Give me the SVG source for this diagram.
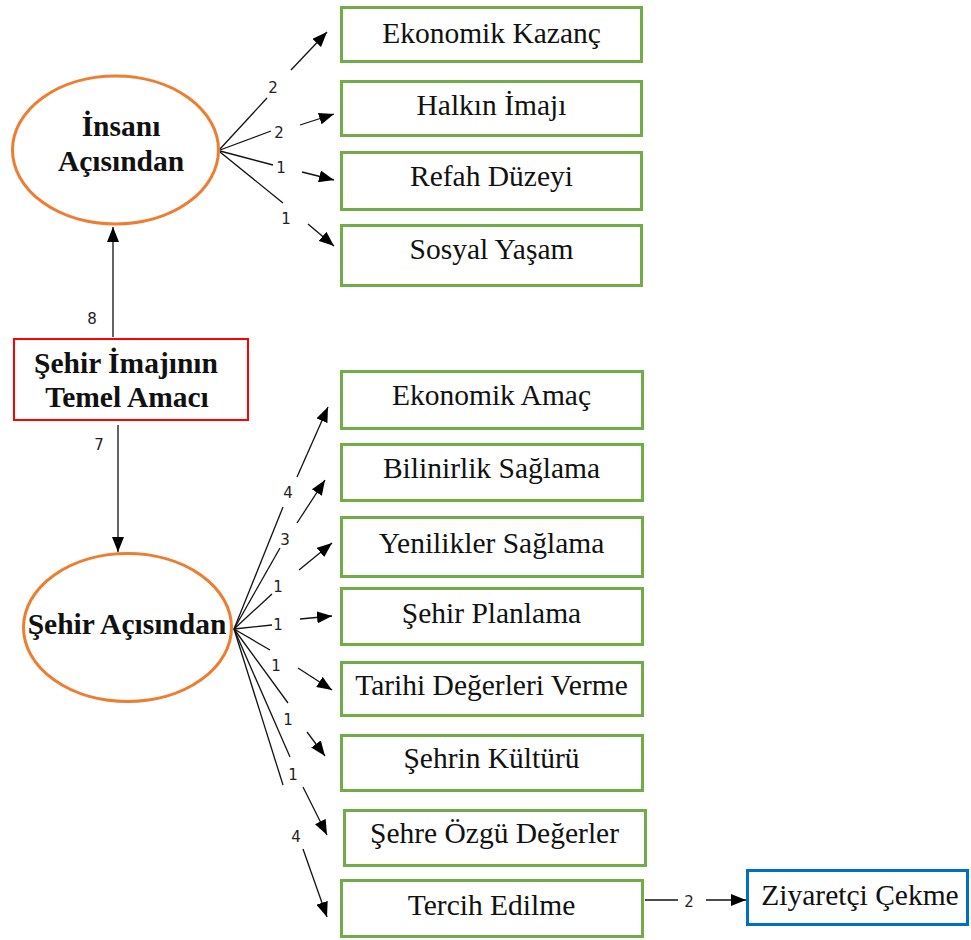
<svg xmlns="http://www.w3.org/2000/svg" width="971" height="940" viewBox="0 0 971 940">
  <defs>
    <marker id="arrow" viewBox="0 0 15 12" markerWidth="15" markerHeight="12" refX="15" refY="6" orient="auto" markerUnits="userSpaceOnUse">
      <path d="M0,0 L15,6 L0,12 Z" fill="#000"/>
    </marker>
    <style>
      .item { fill: #fff; stroke: #70AD47; stroke-width: 3; }
      .item-text { font-family: "Liberation Serif", "Times New Roman", serif; font-size: 29.5px; fill: #111; text-anchor: middle; }
      .head-text { font-family: "Liberation Serif", "Times New Roman", serif; font-size: 29.5px; font-weight: bold; fill: #111; text-anchor: middle; }
      .view { fill: #fff; stroke: #ED7D31; stroke-width: 3; }
      .edge { stroke: #111; stroke-width: 1.3; fill: none; }
      .tip { stroke: #111; stroke-width: 1.3; fill: none; marker-end: url(#arrow); }
      .num { font-family: "DejaVu Sans", Verdana, sans-serif; font-size: 15px; fill: #222; text-anchor: middle; dominant-baseline: central; }
    </style>
  </defs>
  <rect width="971" height="940" fill="#fff"/>

  <!-- connectors -->
  <g id="connectors">
    <!-- İnsanı Açısından outputs -->
    <line class="edge" x1="220" y1="149" x2="267" y2="98"/>
    <text class="num" x="273" y="88">2</text>
    <line class="tip" x1="291" y1="70" x2="327" y2="32"/>

    <line class="edge" x1="220" y1="150" x2="271" y2="131"/>
    <text class="num" x="279" y="133">2</text>
    <line class="tip" x1="300" y1="125" x2="334" y2="114"/>

    <line class="edge" x1="220" y1="151" x2="273" y2="165"/>
    <text class="num" x="281" y="168">1</text>
    <line class="tip" x1="302" y1="172" x2="334" y2="180"/>

    <line class="edge" x1="220" y1="152" x2="283" y2="203"/>
    <text class="num" x="286" y="219">1</text>
    <line class="tip" x1="308" y1="224" x2="334" y2="246"/>

    <!-- root to both views -->
    <line class="tip" x1="113" y1="337" x2="113" y2="227"/>
    <text class="num" x="92" y="319">8</text>
    <line class="tip" x1="118" y1="425" x2="118" y2="552"/>
    <text class="num" x="99" y="445">7</text>

    <!-- Şehir Açısından outputs -->
    <line class="edge" x1="234" y1="629" x2="283" y2="507"/>
    <text class="num" x="288" y="493">4</text>
    <line class="tip" x1="297" y1="477" x2="328" y2="407"/>

    <line class="edge" x1="234" y1="629" x2="280" y2="548"/>
    <text class="num" x="285" y="540">3</text>
    <line class="tip" x1="297" y1="523" x2="325" y2="480"/>

    <line class="edge" x1="234" y1="629" x2="272" y2="594"/>
    <text class="num" x="278" y="587">1</text>
    <line class="tip" x1="299" y1="570" x2="332" y2="543"/>

    <line class="edge" x1="234" y1="629" x2="272" y2="625"/>
    <text class="num" x="278" y="625">1</text>
    <line class="tip" x1="300" y1="619" x2="332" y2="616"/>

    <line class="edge" x1="234" y1="629" x2="270" y2="650"/>
    <text class="num" x="276" y="666">1</text>
    <line class="tip" x1="298" y1="668" x2="332" y2="690"/>

    <line class="edge" x1="234" y1="629" x2="288" y2="703"/>
    <text class="num" x="288" y="720">1</text>
    <line class="tip" x1="307" y1="732" x2="325" y2="756"/>

    <line class="edge" x1="234" y1="629" x2="290" y2="757"/>
    <text class="num" x="293" y="775">1</text>
    <line class="tip" x1="303" y1="787" x2="327" y2="835"/>

    <line class="edge" x1="234" y1="629" x2="283" y2="785"/>
    <text class="num" x="296" y="837">4</text>
    <line class="tip" x1="303" y1="849" x2="327" y2="917"/>

    <!-- Tercih Edilme to Ziyaretçi Çekme -->
    <line class="edge" x1="645" y1="900" x2="678" y2="900"/>
    <text class="num" x="689" y="902">2</text>
    <line class="tip" x1="706" y1="900" x2="746" y2="900"/>
  </g>

  <!-- root node -->
  <g id="root">
    <rect x="14" y="339" width="234" height="81" fill="#fff" stroke="#FF0000" stroke-width="2"/>
    <text class="head-text" x="126" y="373">Şehir İmajının</text>
    <text class="head-text" x="127" y="407">Temel Amacı</text>
  </g>

  <!-- view nodes -->
  <g id="insan">
    <ellipse class="view" cx="115.5" cy="150" rx="103" ry="74"/>
    <text class="head-text" x="121" y="136">İnsanı</text>
    <text class="head-text" x="121" y="171">Açısından</text>
  </g>
  <g id="sehir">
    <ellipse class="view" cx="127.5" cy="627.5" rx="104" ry="74"/>
    <text class="head-text" x="127" y="634">Şehir Açısından</text>
  </g>

  <!-- item nodes -->
  <g id="ekonomik-kazanc">
    <rect class="item" x="341.5" y="7.5" width="300" height="54"/>
    <text class="item-text" x="491.5" y="43">Ekonomik Kazanç</text>
  </g>
  <g id="halkin-imaji">
    <rect class="item" x="341.5" y="81.5" width="300" height="54"/>
    <text class="item-text" x="491.5" y="115">Halkın İmajı</text>
  </g>
  <g id="refah-duzeyi">
    <rect class="item" x="341.5" y="152.5" width="300" height="57"/>
    <text class="item-text" x="491.5" y="186">Refah Düzeyi</text>
  </g>
  <g id="sosyal-yasam">
    <rect class="item" x="341.5" y="225.5" width="300" height="60"/>
    <text class="item-text" x="491.5" y="259">Sosyal Yaşam</text>
  </g>
  <g id="ekonomik-amac">
    <rect class="item" x="341.5" y="371.5" width="301" height="57"/>
    <text class="item-text" x="491.5" y="405">Ekonomik Amaç</text>
  </g>
  <g id="bilinirlik">
    <rect class="item" x="341.5" y="444.5" width="301" height="56"/>
    <text class="item-text" x="491.5" y="478">Bilinirlik Sağlama</text>
  </g>
  <g id="yenilikler">
    <rect class="item" x="341.5" y="517.5" width="301" height="59"/>
    <text class="item-text" x="491.5" y="553">Yenilikler Sağlama</text>
  </g>
  <g id="sehir-planlama">
    <rect class="item" x="341.5" y="588.5" width="301" height="56"/>
    <text class="item-text" x="491.5" y="623">Şehir Planlama</text>
  </g>
  <g id="tarihi-degerler">
    <rect class="item" x="341.5" y="662.5" width="301" height="53"/>
    <text class="item-text" x="491.5" y="695">Tarihi Değerleri Verme</text>
  </g>
  <g id="sehrin-kulturu">
    <rect class="item" x="341.5" y="735.5" width="301" height="55"/>
    <text class="item-text" x="491.5" y="768">Şehrin Kültürü</text>
  </g>
  <g id="sehre-ozgu">
    <rect class="item" x="344.5" y="810.5" width="301" height="55"/>
    <text class="item-text" x="494.5" y="843">Şehre Özgü Değerler</text>
  </g>
  <g id="tercih-edilme">
    <rect class="item" x="341.5" y="880.5" width="301" height="56"/>
    <text class="item-text" x="491.5" y="915">Tercih Edilme</text>
  </g>

  <!-- outcome node -->
  <g id="ziyaretci">
    <rect x="747.5" y="870.5" width="220" height="54" fill="#fff" stroke="#0070C0" stroke-width="3"/>
    <text class="item-text" x="860" y="905">Ziyaretçi Çekme</text>
  </g>
</svg>
